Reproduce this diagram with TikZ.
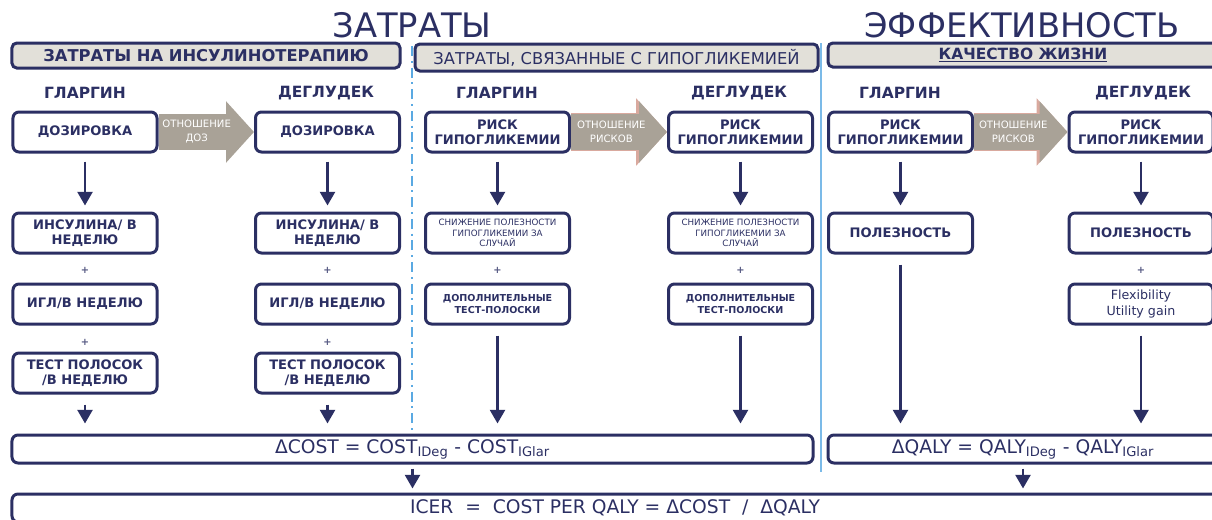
\documentclass[tikz,border=0pt]{standalone}
\usepackage{fontspec}
\setmainfont{DejaVu Sans}
\usetikzlibrary{arrows.meta}

\definecolor{navy}{HTML}{2B2F63}
\definecolor{barfill}{HTML}{E2E0D9}
\definecolor{arrgray}{HTML}{A9A297}
\definecolor{arredge}{HTML}{D9A99E}
\definecolor{sepblue}{HTML}{5AA9E2}

\tikzset{
  box/.style={draw=navy, line width=0.75mm, rounded corners=1.5mm, minimum width=36mm, minimum height=10mm, inner sep=1pt, align=center, text=navy, font=\bfseries\fontsize{9.3}{10.7}\selectfont},
  tinybox/.style={box, font=\fontsize{6.2}{7.4}\selectfont},
  bar/.style={draw=navy, fill=barfill, line width=0.75mm, rounded corners=1.2mm, inner sep=0pt, text=navy},
  sumbar/.style={draw=navy, line width=0.75mm, rounded corners=1.5mm, minimum height=7mm, inner sep=0pt, text=navy, font=\fontsize{13.3}{15}\selectfont},
  drug/.style={text=navy, font=\bfseries\fontsize{11}{13}\selectfont},
  plus/.style={text=navy!80, font=\bfseries\fontsize{7}{8}\selectfont},
  down/.style={draw=navy, line width=0.7mm, -{Triangle[width=3.7mm, length=3.4mm]}, shorten <=2mm, shorten >=1.5mm},
  ratio/.style={draw=arrgray, line width=9mm, -{Triangle[width=15mm, length=7mm]}},
  ratioedge/.style={draw=arredge, line width=9.7mm, -{Triangle[width=16.4mm, length=7.7mm]}},
  ratiotext/.style={text=white, align=center, font=\fontsize{7.2}{10}\selectfont}
}

\begin{document}
\begin{tikzpicture}[x=0.25mm, y=-0.25mm]
\useasboundingbox (0,0) rectangle (1212,519);

\node[text=navy, font=\fontsize{24}{28}\selectfont] (tcost) at (412,25) {ЗАТРАТЫ};
\node[text=navy, font=\fontsize{24}{28}\selectfont] (teff) at (1022,25) {ЭФФЕКТИВНОСТЬ};

\draw[sepblue, line width=0.5mm, dash pattern=on 2.5mm off 1.2mm on 0.5mm off 1.2mm] (412,46) -- (412,433);
\draw[sepblue!80, line width=0.55mm] (821,43) -- (821,472);

\node[bar, minimum width=97mm, minimum height=6.25mm, font=\bfseries\fontsize{11.6}{13}\selectfont] (hins) at (206,55.5) {ЗАТРАТЫ НА ИНСУЛИНОТЕРАПИЮ};
\node[bar, minimum width=100.75mm, minimum height=6.75mm, font=\fontsize{11.6}{13}\selectfont] (hhyp) at (616.5,57.5) {ЗАТРАТЫ, СВЯЗАННЫЕ С ГИПОГЛИКЕМИЕЙ};
\node[bar, minimum width=97.5mm, minimum height=6mm, font=\bfseries\fontsize{11}{13}\selectfont] (hqol) at (1023,55) {\underline{КАЧЕСТВО ЖИЗНИ}};

\foreach \x/\n/\t in {85/gl1/ГЛАРГИН, 326/dg2/ДЕГЛУДЕК, 497/gl3/ГЛАРГИН, 739/dg4/ДЕГЛУДЕК, 900/gl5/ГЛАРГИН, 1143/dg6/ДЕГЛУДЕК}
  \node[drug] (\n) at (\x,93) {\t};

\node[box] (dose1) at (85,132) {ДОЗИРОВКА};
\node[box] (dose2) at (327.5,132) {ДОЗИРОВКА};
\node[box] (risk3) at (497.5,132) {РИСК\\ГИПОГЛИКЕМИИ};
\node[box] (risk4) at (740.5,132) {РИСК\\ГИПОГЛИКЕМИИ};
\node[box] (risk5) at (900.5,132) {РИСК\\ГИПОГЛИКЕМИИ};
\node[box] (risk6) at (1141,132) {РИСК\\ГИПОГЛИКЕМИИ};

\node[box] (ins1) at (85,233) {ИНСУЛИНА/ В\\НЕДЕЛЮ};
\node[box] (ins2) at (327.5,233) {ИНСУЛИНА/ В\\НЕДЕЛЮ};
\node[tinybox] (dis3) at (497.5,233) {СНИЖЕНИЕ ПОЛЕЗНОСТИ\\ГИПОГЛИКЕМИИ ЗА\\СЛУЧАЙ};
\node[tinybox] (dis4) at (740.5,233) {СНИЖЕНИЕ ПОЛЕЗНОСТИ\\ГИПОГЛИКЕМИИ ЗА\\СЛУЧАЙ};
\node[box] (util5) at (900.5,233) {ПОЛЕЗНОСТЬ};
\node[box] (util6) at (1141,233) {ПОЛЕЗНОСТЬ};

\node[box] (ndl1) at (85,304) {ИГЛ/В НЕДЕЛЮ};
\node[box] (ndl2) at (327.5,304) {ИГЛ/В НЕДЕЛЮ};
\node[box, font=\bfseries\fontsize{6.8}{8.5}\selectfont] (xtra3) at (497.5,304) {ДОПОЛНИТЕЛЬНЫЕ\\ТЕСТ-ПОЛОСКИ};
\node[box, font=\bfseries\fontsize{6.8}{8.5}\selectfont] (xtra4) at (740.5,304) {ДОПОЛНИТЕЛЬНЫЕ\\ТЕСТ-ПОЛОСКИ};
\node[box, font=\fontsize{9}{11}\selectfont] (flex6) at (1141,304) {Flexibility\\Utility gain};

\node[box] (strp1) at (85,373) {ТЕСТ ПОЛОСОК\\/В НЕДЕЛЮ};
\node[box] (strp2) at (327.5,373) {ТЕСТ ПОЛОСОК\\/В НЕДЕЛЮ};

\foreach \x/\n in {85/pa1, 327.5/pa2, 497.5/pa3, 740.5/pa4, 1141/pa6}
  \node[plus] (\n) at (\x,270) {+};
\foreach \x/\n in {85/pb1, 327.5/pb2}
  \node[plus] (\n) at (\x,342) {+};

\node[sumbar, minimum width=200.25mm] (dcost) at (412.5,449) {ΔCOST = COST\textsubscript{IDeg} - COST\textsubscript{IGlar}};
\node[sumbar, minimum width=97.5mm] (dqaly) at (1023,449) {ΔQALY = QALY\textsubscript{IDeg} - QALY\textsubscript{IGlar}};
\node[sumbar, minimum width=301.5mm] (icer) at (615,508) {ICER \ = \ COST PER QALY = ΔCOST \ / \ ΔQALY};

\draw[ratio] (dose1) -- (dose2) node[ratiotext, pos=0.4] (rdose) {ОТНОШЕНИЕ\\ДОЗ};
\foreach \a/\b/\n in {risk3/risk4/rrisk1, risk5/risk6/rrisk2} {
  \draw[ratioedge] (\a) -- (\b);
  \draw[ratio] (\a) -- (\b) node[ratiotext, pos=0.42] (\n) {ОТНОШЕНИЕ\\РИСКОВ};
}

\foreach \a/\b in {dose1/ins1, dose2/ins2, risk3/dis3, risk4/dis4, risk5/util5, risk6/util6}
  \draw[down] (\a) -- (\b);
\foreach \a/\b in {strp1/dcost, strp2/dcost, xtra3/dcost, xtra4/dcost, util5/dqaly, flex6/dqaly}
  \draw[down, shorten <=2.5mm, shorten >=2.5mm] (\a) -- (\a |- \b.north);
\foreach \a in {dcost, dqaly}
  \draw[down, shorten <=1mm, shorten >=1mm] (\a) -- (\a |- icer.north);
\end{tikzpicture}
\end{document}
